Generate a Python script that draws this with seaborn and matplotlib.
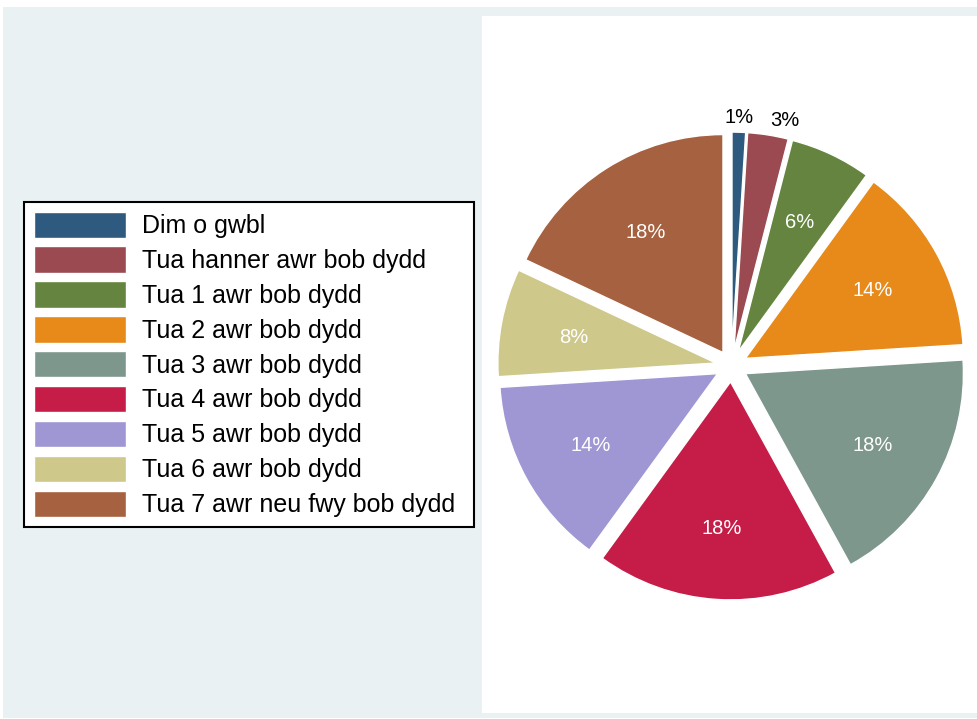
import matplotlib
matplotlib.use("Agg")
import matplotlib.pyplot as plt
from matplotlib.patches import Rectangle
import seaborn as sns
import numpy as np

categories = [
    "Dim o gwbl",
    "Tua hanner awr bob dydd",
    "Tua 1 awr bob dydd",
    "Tua 2 awr bob dydd",
    "Tua 3 awr bob dydd",
    "Tua 4 awr bob dydd",
    "Tua 5 awr bob dydd",
    "Tua 6 awr bob dydd",
    "Tua 7 awr neu fwy bob dydd",
]
shares = [1, 3, 6, 14, 18, 18, 14, 8, 18]
slice_colors = [
    "#2f5a7f", "#9a4a50", "#64843f", "#e78a1a", "#7d978c",
    "#c51d47", "#9e97d4", "#cfc88b", "#a66240",
]

sns.set_theme(style="white")
plt.rcParams["font.family"] = ["Liberation Sans", "DejaVu Sans"]
plt.rcParams["text.color"] = "black"
palette = sns.color_palette(slice_colors)

W, H = 978, 719
fig = plt.figure(figsize=(W / 100, H / 100), dpi=100, facecolor="white")

# page background and plot region (behind everything)
fig.patches.append(Rectangle((3 / W, 1 - 718 / H), 974 / W, 711 / H,
                             transform=fig.transFigure, facecolor="#eaf1f3",
                             edgecolor="none", zorder=-2))
fig.patches.append(Rectangle((482 / W, 1 - 713 / H), 495 / W, 697 / H,
                             transform=fig.transFigure, facecolor="white",
                             edgecolor="none", zorder=-1))

# pie axes: centre (731.5, 366) px, radius 218 px
cx, cy, r = 731.5, 366.0, 218.0
lim = 1.3
side = 2 * lim * r
ax = fig.add_axes([(cx - side / 2) / W, (H - cy - side / 2) / H, side / W, side / H])
ax.set_facecolor("none")

explode = [0.073] * len(shares)
wedges, texts, autotexts = ax.pie(
    shares, colors=palette, explode=explode, startangle=90, counterclock=False,
    autopct=lambda p: f"{p:.0f}%", pctdistance=0.665,
    textprops=dict(color="white", fontsize=14.5),
)
ax.set_xlim(-lim, lim)
ax.set_ylim(-lim, lim)
ax.set_aspect("equal")
ax.axis("off")

for w, t, v in zip(wedges, autotexts, shares):
    t.set_va("center_baseline")
    # small slices get their label outside the rim, in black
    if v < 5:
        th = np.deg2rad((w.theta1 + w.theta2) / 2)
        x0, y0 = w.center
        t.set_position((x0 + 1.075 * np.cos(th), y0 + 1.075 * np.sin(th)))
        t.set_color("black")
        c = np.cos(th)
        t.set_ha("center" if abs(c) < 0.1 else ("left" if c > 0 else "right"))

leg = fig.legend(
    wedges, categories, loc="upper left", mode="expand",
    bbox_to_anchor=(24 / W, 1 - 526 / H, 450 / W, 324 / H),
    bbox_transform=fig.transFigure,
    borderaxespad=0, fontsize=18, frameon=True, fancybox=False,
    edgecolor="black", facecolor="white", framealpha=1,
    handlelength=3.7, handleheight=1.25, handletextpad=0.65,
    labelspacing=0.33, borderpad=0.38,
)
leg.get_frame().set_linewidth(1.5)
for t in leg.get_texts():
    t.set_color("black")

fig.savefig("out.png", dpi=100, facecolor="white")
